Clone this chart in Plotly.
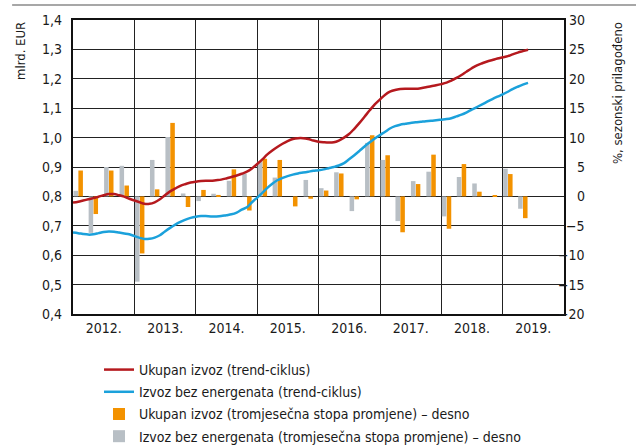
import pandas as pd
import plotly.graph_objects as go

# ---- data ----
months = pd.date_range("2012-01-01", "2019-06-01", freq="MS").strftime("%Y-%m-%d").tolist()

ukupan_trend = [
    0.779, 0.782, 0.786, 0.790, 0.794, 0.799, 0.804, 0.808, 0.808, 0.804, 0.799, 0.792,
    0.786, 0.780, 0.775, 0.775, 0.780, 0.790, 0.804, 0.817, 0.827, 0.836, 0.842, 0.847,
    0.850, 0.852, 0.853, 0.853, 0.855, 0.857, 0.861, 0.866, 0.871, 0.877, 0.884, 0.895,
    0.910, 0.926, 0.942, 0.956, 0.968, 0.979, 0.988, 0.995, 0.998, 0.998, 0.995, 0.990,
    0.986, 0.984, 0.983, 0.984, 0.990, 1.000, 1.012, 1.030, 1.050, 1.071, 1.093, 1.113,
    1.130, 1.146, 1.156, 1.162, 1.165, 1.166, 1.166, 1.166, 1.168, 1.171, 1.175, 1.178,
    1.182, 1.187, 1.194, 1.203, 1.213, 1.225, 1.236, 1.246, 1.253, 1.259, 1.264, 1.269,
    1.273, 1.277, 1.283, 1.289, 1.294, 1.299,
]
bez_energenata_trend = [
    0.677, 0.675, 0.672, 0.670, 0.671, 0.675, 0.679, 0.681, 0.680, 0.677, 0.674, 0.671,
    0.665, 0.659, 0.655, 0.656, 0.660, 0.668, 0.681, 0.693, 0.704, 0.713, 0.721, 0.727,
    0.731, 0.733, 0.733, 0.732, 0.732, 0.733, 0.736, 0.739, 0.745, 0.755, 0.763, 0.780,
    0.796, 0.812, 0.828, 0.843, 0.855, 0.863, 0.869, 0.874, 0.878, 0.881, 0.884, 0.887,
    0.889, 0.892, 0.896, 0.900, 0.905, 0.913, 0.926, 0.940, 0.955, 0.970, 0.984, 0.997,
    1.009, 1.020, 1.031, 1.039, 1.044, 1.047, 1.050, 1.052, 1.054, 1.056, 1.057, 1.059,
    1.061, 1.063, 1.066, 1.072, 1.078, 1.086, 1.095, 1.104, 1.113, 1.122, 1.131, 1.139,
    1.147, 1.156, 1.165, 1.173, 1.180, 1.186,
]

# quarter dates (bars are centred on the middle month of each quarter)
quarters = [f"{y}-{m:02d}-01" for y in range(2012, 2020) for m in (2, 5, 8, 11)][:30]

ukupan_qoq = [
    4.4, -3.0, 4.4, 1.85,
    -9.7, 1.2, 12.5, -1.8,
    1.1, 0.25, 4.6, -2.4,
    6.4, 6.2, -1.7, -0.4,
    1.0, 3.9, -0.5, 10.4,
    7.0, -6.1, 2.1, 7.1,
    -5.5, 5.5, 0.8, 0.15,
    3.8, -3.7,
]
bez_energenata_qoq = [
    0.95, -6.2, 5.0, 5.2,
    -14.5, 6.2, 10.1, 0.5,
    -0.8, 0.45, 2.65, 3.9,
    6.0, 3.2, 0.0, 2.8,
    1.4, 4.1, -2.5, 9.1,
    6.2, -4.2, 2.6, 4.2,
    -3.4, 3.3, 2.2, 0.0,
    4.7, -2.1,
]

right_ticks = [-20, -15, -10, -5, 0, 5, 10, 15, 20, 25, 30]
left_ticks = [0.4, 0.5, 0.6, 0.7, 0.8, 0.9, 1.0, 1.1, 1.2, 1.3, 1.4]

# ---- style ----
FONT = "Liberation Sans Narrow, Arial Narrow, DejaVu Sans Condensed, sans-serif"
TXT = "#1a1a1a"
RED = "#B5191E"
BLUE = "#1BA1DB"
ORANGE = "#F39200"
GRAY = "#B8BFC5"
DAY = 86400000
BAR_W = 27 * DAY

fig = go.Figure()

fig.add_trace(go.Scatter(
    x=months, y=ukupan_trend, yaxis="y2", mode="lines",
    line=dict(color=RED, width=2.5, shape="spline"), legendgroup="a",
    name="Ukupan izvoz (trend-ciklus)"))
fig.add_trace(go.Scatter(
    x=months, y=bez_energenata_trend, yaxis="y2", mode="lines",
    line=dict(color=BLUE, width=2.5, shape="spline"), legendgroup="b",
    name="Izvoz bez energenata (trend-ciklus)"))
fig.add_trace(go.Bar(
    x=quarters, y=ukupan_qoq, yaxis="y", marker_color=ORANGE, marker_line_width=0,
    width=BAR_W, offset=1 * DAY, legendgroup="c",
    name="Ukupan izvoz (tromjesečna stopa promjene) – desno"))
fig.add_trace(go.Bar(
    x=quarters, y=bez_energenata_qoq, yaxis="y", marker_color=GRAY, marker_line_width=0,
    width=BAR_W, offset=-28 * DAY, legendgroup="d",
    name="Izvoz bez energenata (tromjesečna stopa promjene) – desno"))

annotations = []
for v in right_ticks:
    annotations.append(dict(
        xref="paper", yref="y", x=1.047, y=v, xanchor="right", yanchor="middle",
        text=(f"\u2212{abs(v)}" if v < 0 else str(v)), showarrow=False,
        font=dict(family=FONT, size=14, color=TXT)))
annotations.append(dict(
    xref="paper", yref="paper", x=-0.108, y=1.0, xanchor="center", yanchor="top",
    text="mlrd. EUR", textangle=-90, showarrow=False,
    font=dict(family=FONT, size=13, color=TXT)))
annotations.append(dict(
    xref="paper", yref="paper", x=1.108, y=1.0, xanchor="center", yanchor="top",
    text="%, sezonski prilagođeno", textangle=-90, showarrow=False,
    font=dict(family=FONT, size=13, color=TXT)))

fig.update_layout(
    width=636, height=446,
    margin=dict(l=73, r=72, t=20, b=132, autoexpand=False),
    paper_bgcolor="white", plot_bgcolor="white",
    font=dict(family=FONT, size=14, color=TXT),
    separators=",.",
    barmode="overlay",
    showlegend=True,
    legend=dict(
        x=0.053, y=-0.136, xanchor="left", yanchor="top",
        traceorder="grouped", font=dict(family=FONT, size=14, color=TXT),
        itemwidth=30, tracegroupgap=1, bgcolor="rgba(0,0,0,0)"),
    xaxis=dict(
        type="date", range=["2012-01-01", "2020-01-01"],
        tick0="2012-01-01", dtick="M12", tickformat="%Y.", ticklabelmode="period",
        showgrid=True, gridcolor="#222", gridwidth=1.3,
        showline=True, linecolor="#111", linewidth=2, mirror=True,
        ticks="", ticklabelstandoff=0,
        tickfont=dict(family=FONT, size=14, color=TXT)),
    yaxis=dict(
        side="right", range=[-20, 30], tickvals=right_ticks,
        showticklabels=False,
        showgrid=True, gridcolor="#222", gridwidth=1.3, zeroline=False,
        showline=True, linecolor="#111", linewidth=2, mirror=True, ticks=""),
    yaxis2=dict(
        side="left", overlaying="y", range=[0.4, 1.4], tickvals=left_ticks,
        tickformat=".1f", showgrid=False, zeroline=False, showline=False,
        ticks="", ticklabelstandoff=10,
        tickfont=dict(family=FONT, size=14, color=TXT)),
    annotations=annotations,
    shapes=[dict(type="line", xref="paper", yref="paper",
                 x0=-0.124, x1=1.15, y0=1.051, y1=1.051,
                 line=dict(color="#8a8a8a", width=1.5))],
)

fig.write_html("out.html", config={"displayModeBar": False},
               post_script="document.body.style.margin='0';")
